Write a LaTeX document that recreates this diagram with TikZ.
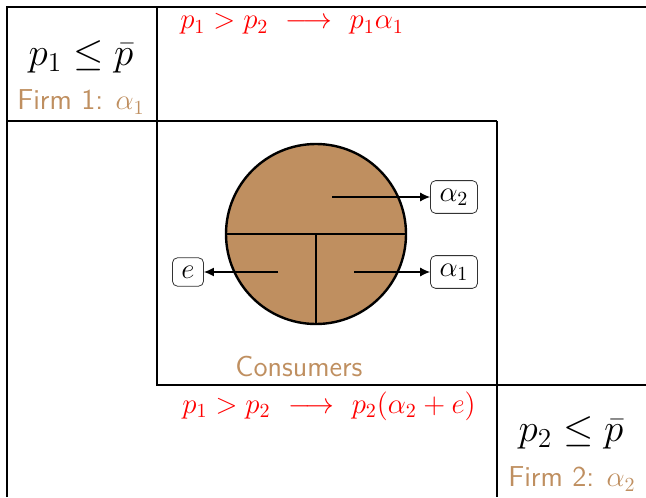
\documentclass[tikz,border=0pt]{standalone}
\usepackage{fix-cm}
\usepackage{fontspec}
\usetikzlibrary{positioning,arrows.meta}
\definecolor{consbrown}{RGB}{191,143,96}

\begin{document}
\begin{tikzpicture}[x=0.5pt,y=-0.5pt,
            frame/.style={draw=black,line width=0.55pt},
            pie/.style={circle,draw=black,line width=1.2pt,fill=consbrown,
                        minimum size=90pt,inner sep=0pt},
            cut/.style={black,line width=1.2pt},
            lab/.style={draw=black!80,rounded corners=2.5pt,font=\Large,
                        inner xsep=4.5pt,inner ysep=4pt,line width=0.4pt},
            arr/.style={-{Latex[length=5pt,width=4.5pt]},line width=0.6pt},
            cond/.style={font=\fontsize{19.5}{23}\selectfont},
            firm/.style={consbrown,font=\Large\sffamily},
            gain/.style={red,font=\Large}]
            \useasboundingbox (0,0) rectangle (646,497);
            % market frames
            \begin{scope}
            \clip (0,0) rectangle (646,497);
            \draw[frame] (7,497) -- (7,7) -- (646,7);
            \draw[frame] (7,121) -- (497,121);
            \draw[frame] (157,7) -- (157,385) -- (646,385);
            \draw[frame] (497,121) -- (497,497);
            \end{scope}
            % consumers
            \node[pie] (pie) at (316,234) {};
            \draw[cut] (pie.west) -- (pie.east);
            \draw[cut] (pie.center) -- (pie.south);
            \coordinate (sa2) at (332,197);
            \coordinate (sa1) at (354,272);
            \coordinate (se)  at (278,272);
            \node[lab] (a2) at (454,197) {$\alpha_2$};
            \node[lab] (a1) at (454,272) {$\alpha_1$};
            \node[lab] (e)  at (188,272) {$e$};
            \draw[arr] (sa2) -- (a2);
            \draw[arr] (sa1) -- (a1);
            \draw[arr] (se) -- (e);
            \node[firm] (cons) at (299,367) {Consumers};
            % firms
            \node[cond] (pone) at (81,57)  {$p_1 \leq \bar{p}$};
            \node[firm] (fone) at (81,102) {Firm 1: $\alpha_1$};
            \node[cond] (ptwo) at (571,433) {$p_2 \leq \bar{p}$};
            \node[firm] (ftwo) at (572,479) {Firm 2: $\alpha_2$};
            \node[gain] (gone) at (292,24)  {$p_1 > p_2\ \longrightarrow\ p_1\alpha_1$};
            \node[gain] (gtwo) at (329,406) {$p_1 > p_2\ \longrightarrow\ p_2(\alpha_2+e)$};
        \end{tikzpicture}
\end{document}
